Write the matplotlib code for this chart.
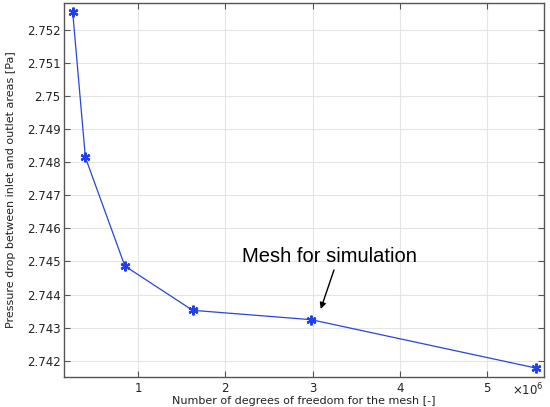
import matplotlib
matplotlib.use("Agg")
import matplotlib.pyplot as plt
from matplotlib.ticker import FuncFormatter

dofs = [0.249e6, 0.394e6, 0.847e6, 1.624e6, 2.985e6, 5.56e6]
pressure = [2.752535, 2.748151, 2.744864, 2.743524, 2.743240, 2.741779]
xticks = [1e6, 2e6, 3e6, 4e6, 5e6]
yticks = [2.742, 2.743, 2.744, 2.745, 2.746, 2.747, 2.748, 2.749, 2.750, 2.751, 2.752]
ytick_labels = ["2.742", "2.743", "2.744", "2.745", "2.746", "2.747", "2.748", "2.749", "2.75", "2.751", "2.752"]

fig = plt.figure(figsize=(5.5, 4.07), dpi=100)
ax = fig.add_axes([64/550, 1-376.7/407, (544-64)/550, (376.7-3.3)/407])

ax.plot(dofs, pressure, color="#2846d8", lw=0.9, marker=(6, 2, 0), ms=7,
        mew=1.6, mec="#1f3ff0", zorder=3)

ax.set_xlim(0.149e6, 5.655e6)
ax.set_ylim(2.741516, 2.752807)
ax.set_xticks(xticks)
ax.xaxis.set_major_formatter(FuncFormatter(lambda v, p: f"{v/1e6:g}"))
ax.set_yticks(yticks)
ax.set_yticklabels(ytick_labels)
ax.tick_params(direction="in", top=True, right=True, labelsize=8.5, length=4,
               color="#555555", labelcolor="#222222", pad=2.5)
ax.tick_params(axis="x", pad=4)
ax.grid(True, color="#e4e4e4", lw=0.8)
for s in ax.spines.values():
    s.set_color("#555555")
    s.set_linewidth(1.0)

ax.text(1.0, -0.014, r"$\times10^6$", transform=ax.transAxes, ha="right", va="top",
        fontsize=8.5, color="#222222")

ax.set_xlabel("Number of degrees of freedom for the mesh [-]", fontsize=8,
              color="#222222", labelpad=0.5)
ax.set_ylabel("Pressure drop between inlet and outlet areas [Pa]", fontsize=8,
              color="#222222", labelpad=8)

ax.text(3.195e6, 2.745145, "Mesh for simulation", ha="center", va="center",
        fontsize=14.5, family="Liberation Sans")
ax.annotate("", xy=(3.094e6, 2.743563), xytext=(3.246e6, 2.744743),
            arrowprops=dict(arrowstyle="-|>", color="black", lw=1.0,
                            mutation_scale=9, shrinkA=0, shrinkB=0))

fig.savefig("out.png", dpi=100)
